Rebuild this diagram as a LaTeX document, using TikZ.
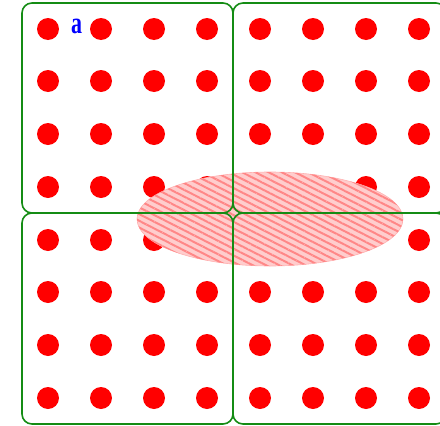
\documentclass[tikz,border=0pt]{standalone}
\usepackage{fontspec}
\newfontfamily\labelfont{Liberation Serif}
\usetikzlibrary{patterns.meta}
\definecolor{gridgreen}{RGB}{20,140,20}
\definecolor{spotred}{RGB}{255,0,0}
\definecolor{blobpink}{RGB}{255,205,205}
\definecolor{hatchred}{RGB}{255,135,135}
\tikzset{
  spot/.style={circle,fill=spotred,inner sep=0pt,minimum size=22pt},
  cell/.style={draw=gridgreen,line width=1.6pt,rounded corners=10pt},
  blob/.style={fill=blobpink,draw=blobpink!60!hatchred,line width=0.6pt},
  hatch/.style={pattern={Lines[angle=-27,distance=6pt,line width=2pt]},pattern color=hatchred}
}
\begin{document}
\begin{tikzpicture}[x=1pt,y=-1pt]
\useasboundingbox (0,0) rectangle (440,426);
%% spots
\node[spot] (s11) at (48,29) {};  \node[spot] (s12) at (101,29) {};  \node[spot] (s13) at (154,29) {};  \node[spot] (s14) at (207,29) {};
\node[spot] (s15) at (260,29) {}; \node[spot] (s16) at (313,29) {};  \node[spot] (s17) at (366,29) {};  \node[spot] (s18) at (419,29) {};
\node[spot] (s21) at (48,81) {};  \node[spot] (s22) at (101,81) {};  \node[spot] (s23) at (154,81) {};  \node[spot] (s24) at (207,81) {};
\node[spot] (s25) at (260,81) {}; \node[spot] (s26) at (313,81) {};  \node[spot] (s27) at (366,81) {};  \node[spot] (s28) at (419,81) {};
\node[spot] (s31) at (48,134) {};  \node[spot] (s32) at (101,134) {};  \node[spot] (s33) at (154,134) {};  \node[spot] (s34) at (207,134) {};
\node[spot] (s35) at (260,134) {}; \node[spot] (s36) at (313,134) {};  \node[spot] (s37) at (366,134) {};  \node[spot] (s38) at (419,134) {};
\node[spot] (s41) at (48,187) {};  \node[spot] (s42) at (101,187) {};  \node[spot] (s43) at (154,187) {};  \node[spot] (s44) at (207,187) {};
\node[spot] (s45) at (260,187) {}; \node[spot] (s46) at (313,187) {};  \node[spot] (s47) at (366,187) {};  \node[spot] (s48) at (419,187) {};
\node[spot] (s51) at (48,240) {};  \node[spot] (s52) at (101,240) {};  \node[spot] (s53) at (154,240) {};  \node[spot] (s54) at (207,240) {};
\node[spot] (s55) at (260,240) {}; \node[spot] (s56) at (313,240) {};  \node[spot] (s57) at (366,240) {};  \node[spot] (s58) at (419,240) {};
\node[spot] (s61) at (48,292) {};  \node[spot] (s62) at (101,292) {};  \node[spot] (s63) at (154,292) {};  \node[spot] (s64) at (207,292) {};
\node[spot] (s65) at (260,292) {}; \node[spot] (s66) at (313,292) {};  \node[spot] (s67) at (366,292) {};  \node[spot] (s68) at (419,292) {};
\node[spot] (s71) at (48,345) {};  \node[spot] (s72) at (101,345) {};  \node[spot] (s73) at (154,345) {};  \node[spot] (s74) at (207,345) {};
\node[spot] (s75) at (260,345) {}; \node[spot] (s76) at (313,345) {};  \node[spot] (s77) at (366,345) {};  \node[spot] (s78) at (419,345) {};
\node[spot] (s81) at (48,398) {};  \node[spot] (s82) at (101,398) {};  \node[spot] (s83) at (154,398) {};  \node[spot] (s84) at (207,398) {};
\node[spot] (s85) at (260,398) {}; \node[spot] (s86) at (313,398) {};  \node[spot] (s87) at (366,398) {};  \node[spot] (s88) at (419,398) {};

%% label
\node[text=blue,font=\labelfont\bfseries\fontsize{22}{22}\selectfont,yscale=1.4,inner sep=0pt] (lbla) at (76.5,26.5) {a};

%% blob
\fill[blob] (270,219) ellipse [x radius=133pt,y radius=47pt];
\fill[hatch] (270,219) ellipse [x radius=133pt,y radius=47pt];

%% cells
\draw[cell] (22,3) rectangle (233,213);
\draw[cell] (233,3) rectangle (446,213);
\draw[cell] (22,213) rectangle (233,424);
\draw[cell] (233,213) rectangle (446,424);
\end{tikzpicture}
\end{document}
